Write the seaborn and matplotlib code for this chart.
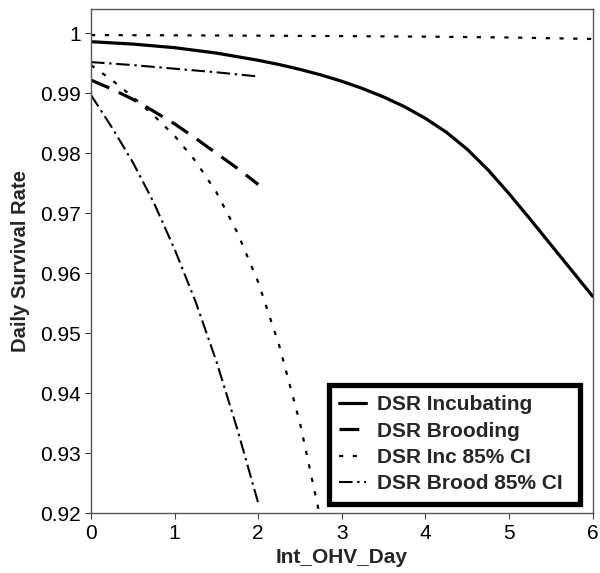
import matplotlib
matplotlib.use("Agg")
import matplotlib.pyplot as plt
import seaborn as sns
import pandas as pd

# ---- data ----
inc_x = [0, 0.5, 1, 1.5, 2, 2.25, 2.5, 2.75, 3, 3.25, 3.5, 3.75, 4, 4.25, 4.5, 4.75,
         5, 5.25, 5.5, 5.75, 6]
inc_y = [0.9986, 0.9982, 0.9976, 0.9967, 0.9955, 0.99479, 0.99398, 0.99306, 0.99200,
         0.99078, 0.98938, 0.98776, 0.98581, 0.98351, 0.98066, 0.97721, 0.97326,
         0.96906, 0.96476, 0.96046, 0.95616]

brood_x = [0, 0.25, 0.5, 0.75, 1, 1.25, 1.5, 1.75, 2]
brood_y = [0.9922, 0.9907, 0.9890, 0.9870, 0.9849, 0.9825, 0.9800, 0.9775, 0.9748]

inc_ci_up_x = [0, 1, 2, 3, 4, 5, 6]
inc_ci_up_y = [0.9997, 0.99966, 0.9996, 0.99953, 0.99944, 0.99930, 0.99905]

inc_ci_lo_x = [0, 0.25, 0.5, 0.75, 1, 1.25, 1.5, 1.75, 2, 2.25, 2.5, 2.7, 2.75]
inc_ci_lo_y = [0.9947, 0.9922, 0.9894, 0.9863, 0.9829, 0.9787, 0.9735, 0.9668, 0.9585,
               0.9480, 0.9350, 0.9220, 0.9186]

brood_ci_up_x = [0, 0.5, 1, 1.5, 2]
brood_ci_up_y = [0.9952, 0.9947, 0.9941, 0.9935, 0.9928]

brood_ci_lo_x = [0, 0.25, 0.5, 0.75, 1, 1.25, 1.5, 1.75, 2]
brood_ci_lo_y = [0.9897, 0.9843, 0.9785, 0.9718, 0.9640, 0.9553, 0.9453, 0.9340, 0.9217]

labels = ["DSR Incubating", "DSR Brooding", "DSR Inc 85% CI", "DSR Brood 85% CI"]
x_ticks = [0, 1, 2, 3, 4, 5, 6]
y_ticks = [0.92, 0.93, 0.94, 0.95, 0.96, 0.97, 0.98, 0.99, 1.0]
y_tick_labels = ["0.92", "0.93", "0.94", "0.95", "0.96", "0.97", "0.98", "0.99", "1"]

# ---- style ----
sns.set_style("ticks")
plt.rcParams["font.family"] = ["Liberation Sans", "DejaVu Sans"]

fig = plt.figure(figsize=(6.0, 5.73), dpi=100)
ax = fig.add_axes([0.1517, 0.1042, 0.8361, 0.8796])

solid = dict(lw=2.3, ls="-")
dashed = dict(lw=2.3, ls=(0, (6.2, 3.3)))
dotted = dict(lw=1.6, ls=(0, (1.9, 4.3)))
dashdot = dict(lw=1.5, ls=(0, (6.5, 2.2, 1.2, 2.2)))

def draw(xs, ys, style, label=None):
    df = pd.DataFrame({"x": xs, "y": ys})
    sns.lineplot(data=df, x="x", y="y", ax=ax, color="black",
                 estimator=None, sort=False, legend=False)
    ln = ax.lines[-1]
    ln.set_linewidth(style["lw"])
    ln.set_linestyle(style["ls"])
    ln.set_dash_capstyle("butt")
    ln.set_solid_joinstyle("round")
    ln.set_label(label if label is not None else "_nolegend_")
    return ln

h1 = draw(inc_x, inc_y, solid, labels[0])
h2 = draw(brood_x, brood_y, dashed, labels[1])
h3 = draw(inc_ci_up_x, inc_ci_up_y, dotted, labels[2])
draw(inc_ci_lo_x, inc_ci_lo_y, dotted)
h4 = draw(brood_ci_up_x, brood_ci_up_y, dashdot, labels[3])
draw(brood_ci_lo_x, brood_ci_lo_y, dashdot)

ax.set_xlim(0, 6)
ax.set_ylim(0.92, 1.0040)
ax.set_xticks(x_ticks)
ax.set_xticklabels([str(t) for t in x_ticks])
ax.set_yticks(y_ticks)
ax.set_yticklabels(y_tick_labels)
ax.tick_params(axis="both", direction="out", length=4.5, width=0.8,
               color="#404040", labelsize=15, labelcolor="black", pad=3)

for sp in ax.spines.values():
    sp.set_visible(True)
    sp.set_color("#555555")
    sp.set_linewidth(1.0)

ax.set_xlabel("Int_OHV_Day", fontsize=15, fontweight="bold", labelpad=4)
ax.set_ylabel("Daily Survival Rate", fontsize=14.6, fontweight="bold", labelpad=7)

leg = ax.legend(handles=[h1, h2, h3, h4], labels=labels, loc="lower left",
                bbox_to_anchor=(0.474, 0.0194, 0.5011, 0.2), mode="expand",
                borderaxespad=0,
                fancybox=False, frameon=True, framealpha=1,
                edgecolor="black", handlelength=1.3, handletextpad=0.5,
                labelspacing=0.35, borderpad=0.5,
                prop={"size": 15, "weight": "bold"})
leg.get_frame().set_linewidth(3.8)

fig.savefig("out.png", dpi=100)
